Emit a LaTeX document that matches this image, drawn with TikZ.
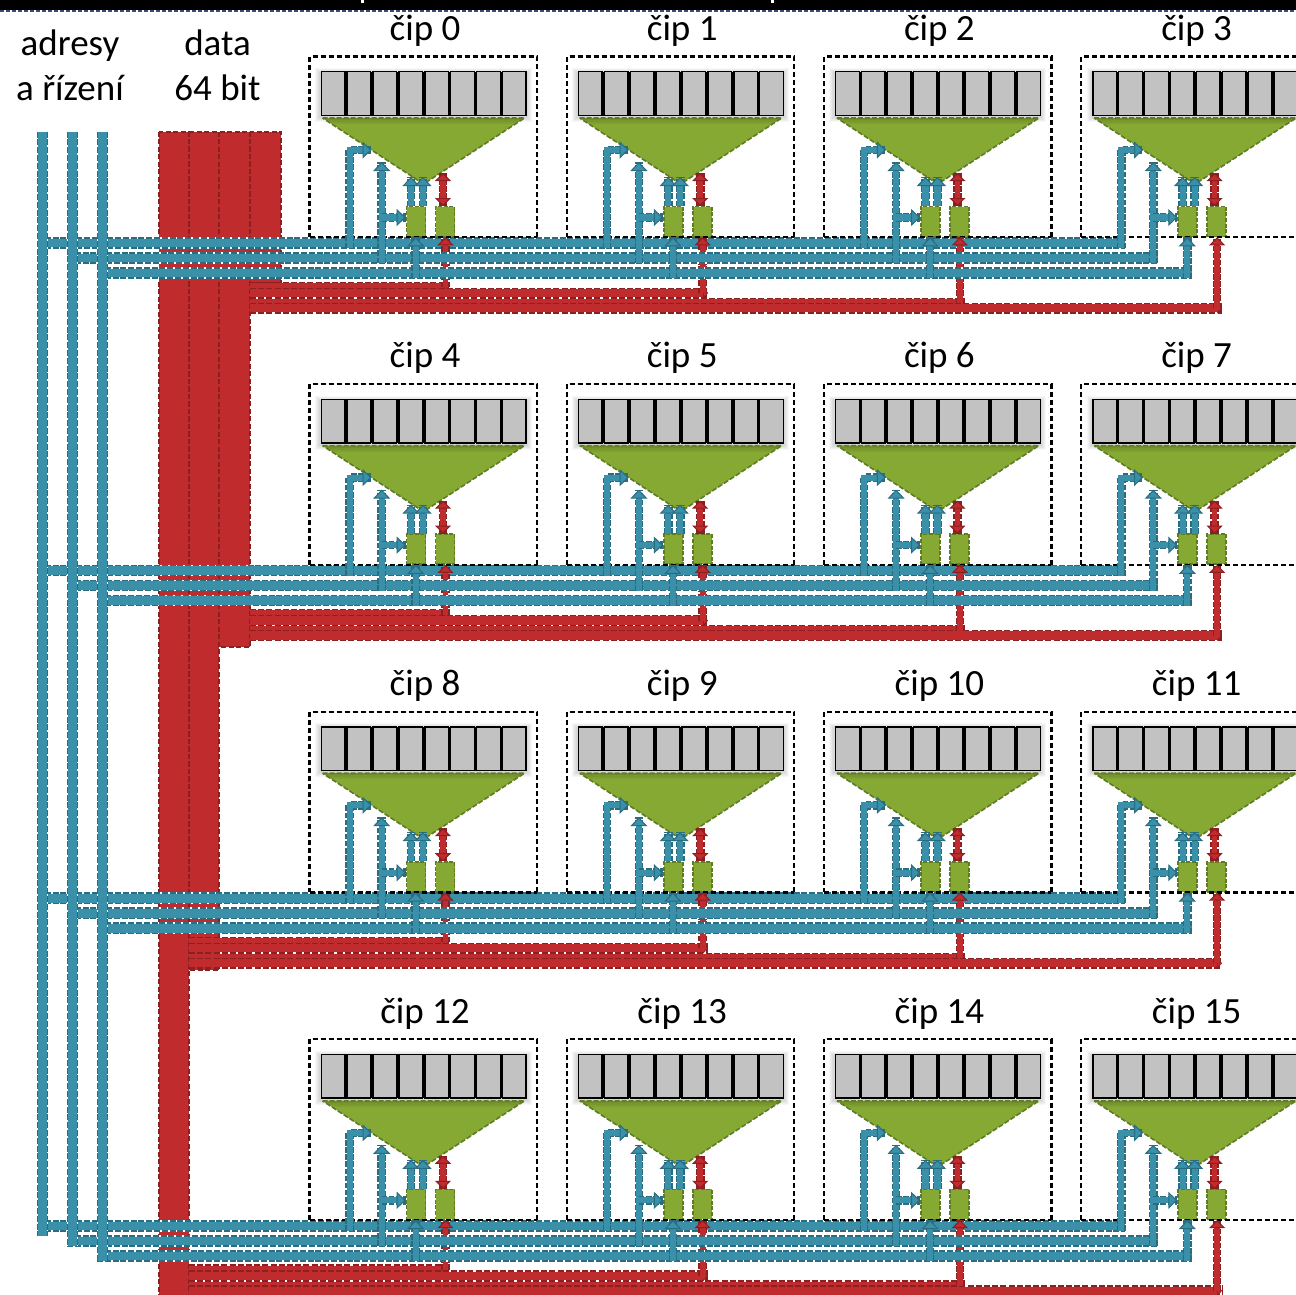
\documentclass[tikz,border=0pt]{standalone}
\usepackage{fontspec}
\setmainfont{Carlito}
\usetikzlibrary{arrows.meta}
\definecolor{bluemain}{HTML}{3A8FA9}
\definecolor{bluedark}{HTML}{2A6C80}
\definecolor{redmain}{HTML}{C02B2D}
\definecolor{reddark}{HTML}{8C1F22}
\definecolor{greenmain}{HTML}{85A933}
\definecolor{greendark}{HTML}{5F7B25}
\definecolor{cellgray}{HTML}{C2C2C2}
\definecolor{barnavy}{HTML}{3B4A78}
\tikzset{
  bt/.tip={Triangle[width=17pt,length=9pt,line width=1pt,color=bluedark,fill=bluemain]},
  rt/.tip={Triangle[width=16pt,length=8pt,line width=1pt,color=reddark,fill=redmain]},
  bandtip/.tip={Triangle[width=11pt,length=5pt,line width=.6pt,color=reddark,fill=redmain]},
  label/.style={font=\fontsize{37}{44}\selectfont,anchor=base,inner sep=0pt,text=black},
  chipbox/.style={draw=black,line width=2.2pt,dash pattern=on 5pt off 3pt},
  cell/.style={draw=black,line width=1.4pt,fill=cellgray,minimum width=23.6pt,minimum height=43.5pt,inner sep=0pt,outer sep=0pt},
  regbox/.style={draw=greendark,fill=greenmain,line width=1.6pt,dash pattern=on 4pt off 1.6pt,minimum width=19pt,minimum height=30pt,inner sep=0pt},
  blockedge/.style={draw=reddark,line width=2pt,dash pattern=on 5pt off 2.5pt},
}
\newcommand\blueBus[1]{%
  \draw[white,line width=11.6pt]#1;
  \draw[bluedark,line width=11.6pt,dash pattern=on 6pt off 1.8pt]#1;
  \draw[bluemain,line width=8.6pt]#1;}
\newcommand\blueRise[2]{%
  \draw[bluedark,line width=8.6pt,dash pattern=on 5.5pt off 1.6pt]#2;
  \draw[bluemain,line width=6.2pt,#1]#2;}
\newcommand\redRise[2]{%
  \draw[reddark,line width=8.6pt,dash pattern=on 5.5pt off 1.6pt]#2;
  \draw[redmain,line width=5.6pt,#1]#2;}
\newcommand\redBand[1]{%
  \draw[reddark,line width=11pt,dash pattern=on 6pt off 2.2pt]#1;
  \draw[redmain,line width=8.4pt,-{bandtip}]#1;}
\begin{document}
\begin{tikzpicture}[x=1pt,y=-1pt]
\useasboundingbox (0,0) rectangle (1296,1294);
\clip (0,0) rectangle (1296,1294);
\fill[white] (0,0) rectangle (1296,1294);
% top bar
\fill[black] (0,0) rectangle (1296,10);
\draw[barnavy,line width=2pt,dash pattern=on 4pt off 2pt] (0,11) -- (1296,11);
\fill[white] (361,0) rectangle (364,2.5);
\fill[white] (771,0) rectangle (774,2.5);
% headings
\node[label] (tadr) at (70,55.5) {adresy};
\node[label] (tadr2) at (70,100) {a řízení};
\node[label] (tdat) at (217.5,55.5) {data};
\node[label] (tdat2) at (217.5,100) {64 bit};
% chips
\foreach \r in {0,1,2,3}{
 \foreach \c in {0,1,2,3}{
  \pgfmathsetmacro\dx{257.2*\c}
  \pgfmathsetmacro\dy{327.6*\r}
  \pgfmathtruncatemacro\n{4*\r+\c}
  \begin{scope}[shift={(\dx,\dy)}]
   \node[label] (title-\n) at (425,40.3) {čip \n};
   \draw[chipbox] (309.5,237.5) -- (309.5,56.5) -- (537,56.5) -- (537,237.5);
   \coordinate (bl-\n) at (309.5,237.3);
   \coordinate (br-\n) at (537,237.3);
   \foreach \e in {5,4,3,2,1}{
     \fill[black,opacity=.03] (320-\e,71-\e+2) rectangle (527+\e,116+\e+1);
   }
   \path (322.5,118) coordinate (tl-\n) (524.5,118) coordinate (tr-\n) (423.5,184) coordinate (ta-\n);
   \fill[greenmain] (tl-\n) -- (tr-\n) -- (ta-\n) -- cycle;
   \begin{scope}
    \clip (tl-\n) -- (tr-\n) -- (ta-\n) -- cycle;
    \foreach \e in {2,4,6,8}{ \fill[black,opacity=.05] (320,116) rectangle (527,116+\e); }
   \end{scope}
   \draw[greendark,line width=1.6pt,dash pattern=on 5pt off 2pt] (tl-\n) -- (tr-\n) -- (ta-\n) -- cycle;
   \fill[black] (320.5,71.5) rectangle (526.5,115.5);
   \foreach \i in {0,...,7}{
     \node[cell] (cell-\n-\i) at ({333+25.9*\i},93.5) {};
   }
   \node[regbox] (rega-\n) at (416,221.5) {};
   \node[regbox] (regb-\n) at (445,221.5) {};
   % riser coordinates
   \coordinate (aBase-\n) at (349.7,248);
   \coordinate (aTop-\n) at (349.7,150);
   \coordinate (aEnd-\n) at (371.5,150);
   \coordinate (bBase-\n) at (381.7,263);
   \coordinate (bEnd-\n) at (381.7,162);
   \coordinate (bTap-\n) at (381.7,217.5);
   \coordinate (cBase-\n) at (415.7,278);
   \coordinate (upL-\n) at (411,177);
   \coordinate (upR-\n) at (423,177);
   \coordinate (upLs-\n) at (411,206);
   \coordinate (upRs-\n) at (423,206);
   \coordinate (dTop-\n) at (443,173);
   \coordinate (dBot-\n) at (443,206);
  \end{scope}
 }
}
% data blocks: fills first, then their dashed outlines
\fill[redmain] (158.5,131.5) rectangle (188.5,1300);
\fill[redmain] (188.5,131.5) rectangle (219,970);
\fill[redmain] (219,131.5) rectangle (250,647);
\fill[redmain] (250,131.5) rectangle (280.5,283);
\draw[blockedge] (158.5,131.5) rectangle (188.5,1300);
\draw[blockedge] (188.5,131.5) rectangle (219,970);
\draw[blockedge] (219,131.5) rectangle (250,647);
\draw[blockedge] (250,131.5) rectangle (280.5,283);
% data bands
\foreach \r/\sx in {0/250,1/250,2/189,3/188.5}{
  \pgfmathsetmacro\dy{327.6*\r}
  \begin{scope}[shift={(0,\dy)}]
    \coordinate (dl0-\r) at (\sx,287);
    \coordinate (dl1-\r) at (\sx,293);
    \coordinate (dl2-\r) at (\sx,303);
    \coordinate (dl3-\r) at (\sx,308);
    \coordinate (de0-\r) at (449,287);
    \coordinate (de1-\r) at (708,293);
    \coordinate (de2-\r) at (965,303);
    \coordinate (de3-\r) at (1222,308);
    \redBand{(dl0-\r) -- (de0-\r)}
    \redBand{(dl1-\r) -- (de1-\r)}
    \redBand{(dl2-\r) -- (de2-\r)}
    \redBand{(dl3-\r) -- (de3-\r)}
  \end{scope}
}
% address buses
\foreach \r in {0,1,2,3}{
  \pgfmathsetmacro\dy{327.6*\r}
  \begin{scope}[shift={(0,\dy)}]
    \coordinate (ha0-\r) at (37,243);
    \coordinate (ha1-\r) at (1125,243);
    \coordinate (hb0-\r) at (67,258);
    \coordinate (hb1-\r) at (1158,258);
    \coordinate (hc0-\r) at (97,273);
    \coordinate (hc1-\r) at (1192,273);
  \end{scope}
  \blueBus{(ha0-\r) -- (ha1-\r)}
  \foreach \c in {0,1,2,3}{
    \pgfmathsetmacro\dx{257.2*\c}
    \pgfmathsetmacro\dyy{327.6*\r}
    \pgfmathtruncatemacro\n{4*\r+\c}
    \pgfmathsetmacro\ybase{287+(\c==1)*6+(\c==2)*16+(\c==3)*21}
    \begin{scope}[shift={(\dx,\dyy)}]
      \coordinate (rb-\n) at (445.5,\ybase);
    \end{scope}
    \ifnum\c=3\relax
      \draw[chipbox] (bl-\n) -- (1296,0 |- br-\n);
    \else
      \draw[chipbox] (bl-\n) -- (br-\n);
    \fi
    \redRise{-{rt}}{(rb-\n) -- (rb-\n |- regb-\n.south)}
    \redRise{{rt}-{rt}}{(dBot-\n) -- (dTop-\n)}
  }
  \blueBus{(hb0-\r) -- (hb1-\r)}
  \blueBus{(hc0-\r) -- (hc1-\r)}
  \foreach \c in {0,1,2,3}{
    \pgfmathtruncatemacro\n{4*\r+\c}
    \blueRise{-{bt}}{(aBase-\n) -- (aTop-\n) -- (aEnd-\n)}
    \blueRise{-{bt}}{(bBase-\n) -- (bEnd-\n)}
    \blueRise{-{bt}}{(bTap-\n) -- (rega-\n.west |- bTap-\n)}
    \blueRise{-{bt}}{(cBase-\n) -- (cBase-\n |- rega-\n.south)}
    \blueRise{-{bt}}{(upLs-\n) -- (upL-\n)}
    \blueRise{-{bt}}{(upRs-\n) -- (upR-\n)}
  }
}
% main address verticals
\coordinate (va0) at (42.5,131.5);
\coordinate (va1) at (42.5,1236);
\coordinate (vb0) at (72.5,131.5);
\coordinate (vb1) at (72.5,1246);
\coordinate (vc0) at (102.5,131.5);
\coordinate (vc1) at (102.5,1261);
\blueBus{(va0) -- (va1)}
\blueBus{(vb0) -- (vb1)}
\blueBus{(vc0) -- (vc1)}
\end{tikzpicture}
\end{document}
